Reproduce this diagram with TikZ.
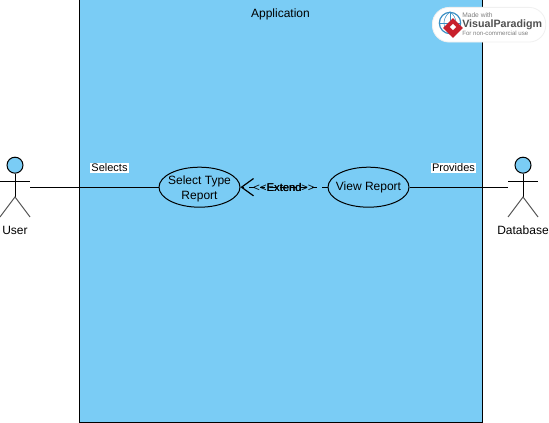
\documentclass[tikz,border=0pt]{standalone}
\usepackage{fontspec}
\setmainfont{Liberation Sans}
\usetikzlibrary{arrows.meta,shapes.geometric}
\definecolor{fillblue}{HTML}{7ACCF5}
\definecolor{vpred}{HTML}{C8202C}
\definecolor{vpgrey}{HTML}{505050}
\definecolor{vpglobe}{HTML}{3A8FC4}
\tikzset{
  x=0.75pt,y=-0.75pt,
  usecase/.style={draw=black,fill=fillblue,ellipse,minimum width=60.75pt,minimum height=30pt,inner xsep=-12pt,inner ysep=-12pt,line width=0.75pt,align=center,font=\fontsize{9}{11.25}\selectfont},
  head/.style={draw=black,fill=fillblue,circle,minimum size=12pt,inner sep=0pt,line width=0.75pt},
  limb/.style={line width=0.75pt,black},
  leg/.style={line width=0.75pt,black!65},
  wire/.style={line width=0.75pt,black},
  txt/.style={font=\fontsize{9}{11}\selectfont,inner sep=0pt},
  tag/.style={font=\fontsize{8.25}{10}\selectfont,fill=white,inner xsep=0.8pt,inner ysep=1pt,text=black},
  exttxt/.style={font=\fontsize{8.4}{10}\selectfont,inner sep=0pt},
}
\begin{document}
\begin{tikzpicture}
\useasboundingbox (0,0) rectangle (549,423);
\fill[white] (0,0) rectangle (549,423);
% system box
\node[draw=black,fill=fillblue,line width=0.75pt,minimum width=302.25pt,minimum height=317.25pt,inner sep=0pt,anchor=north west] (app) at (79,-1) {};
\node[txt] (apptitle) at (280.5,14) {Application};
% use cases
\node[usecase] (sel) at (199.5,187.2) {\rule{0pt}{8.8pt}Select Type\\Report};
\node[usecase] (view) at (368.5,187.2) {View Report};
% user actor
\node[head] (uh) at (15,165.2) {};
\coordinate (uarml) at (0,181.5);
\coordinate (uarmr) at (30,181.5);
\coordinate (uhip) at (15,197);
\coordinate (ulegl) at (0,217);
\coordinate (ulegr) at (30,217);
\coordinate (uhand) at (30,187.2);
\draw[limb] (uh.south) -- (uhip);
\draw[limb] (uarml) -- (uarmr);
\draw[leg] (ulegl) -- (uhip) -- (ulegr);
\node[txt] (ulabel) at (15,230.5) {User};
% database actor
\node[head] (dh) at (523,165.2) {};
\coordinate (darml) at (508,181.5);
\coordinate (darmr) at (538,181.5);
\coordinate (dhip) at (523,197);
\coordinate (dlegl) at (508,217);
\coordinate (dlegr) at (538,217);
\coordinate (dhand) at (508,187.2);
\draw[limb] (dh.south) -- (dhip);
\draw[limb] (darml) -- (darmr);
\draw[leg] (dlegl) -- (dhip) -- (dlegr);
\node[txt] (dlabel) at (523,230.5) {Database};
% connectors
\draw[wire] (uhand) -- (sel.west);
\draw[wire] (view.east) -- (dhand);
\draw[wire,dash pattern=on 4.2pt off 3.6pt,-{Straight Barb[length=9pt,width=13pt,line width=0.9pt]}] (view.west) -- (sel.east);
% labels
\node[tag] (selects) at (109.5,168) {Selects};
\node[tag] (provides) at (453.5,168) {Provides};
\node[exttxt] (ext1) at (284,188) {{<}{<}Extend{>}{>}};
\node[exttxt] (ext2) at (284.4,188) {Extend};
% watermark
\node[draw=black!6,fill=white,rounded corners=12.5pt,minimum width=85pt,minimum height=26pt,inner sep=0pt,anchor=north west,line width=0.6pt] (pill) at (432,7) {};
\node[circle,draw=vpglobe,fill=white,line width=0.9pt,minimum size=16pt,inner sep=0pt] (globe) at (450,23) {};
\draw[vpglobe,line width=0.4pt] (globe.west) -- (globe.east) (globe.north) -- (globe.south);
\draw[vpglobe,line width=0.4pt] (globe.north) .. controls (442,18) and (442,28) .. (globe.south);
\draw[vpglobe,line width=0.4pt] (globe.north) .. controls (458,18) and (458,28) .. (globe.south);
\node[diamond,fill=vpred,minimum size=15pt,inner sep=0pt] (logo) at (453,28) {};
\node[diamond,fill=white,minimum size=5pt,inner sep=0pt] (logoin) at (453,27) {};
\node[font=\fontsize{5}{6}\selectfont,text=black!50,inner sep=0pt,anchor=west] (vp1) at (462,15.5) {Made with};
\node[font=\fontsize{8}{9}\selectfont\bfseries,text=vpgrey,inner sep=0pt,anchor=west] (vp2) at (462,24.5) {VisualParadigm};
\node[font=\fontsize{4.6}{6}\selectfont,text=black!50,inner sep=0pt,anchor=west] (vp3) at (462,33) {For non-commercial use};
\end{tikzpicture}
\end{document}
